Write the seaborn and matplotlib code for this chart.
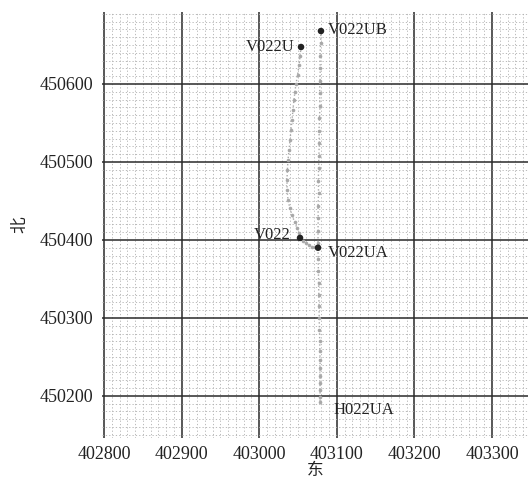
import matplotlib
matplotlib.use("Agg")
import matplotlib.pyplot as plt
import seaborn as sns
import pandas as pd
from matplotlib.ticker import MultipleLocator

sns.set_theme(style="white")
plt.rcParams['font.family'] = ['Liberation Serif', 'Noto Sans CJK SC', 'DejaVu Sans']

# Trajectory V022 -> V022U (curving path)
traj1_x = [403053.9, 403052.6, 403051.3, 403049.5, 403047.4, 403046.0, 403044.8,
           403043.5, 403042.3, 403041.0, 403039.7, 403038.4, 403037.1, 403036.3,
           403035.8, 403035.9, 403037.1, 403039.5, 403042.3, 403045.5, 403048.7,
           403050.8, 403052.6]
traj1_y = [450647.4, 450636.0, 450624.4, 450612.0, 450600.0, 450590.0, 450579.5,
           450567.0, 450553.8, 450541.0, 450528.2, 450515.0, 450502.6, 450490.0,
           450476.9, 450464.0, 450451.3, 450441.0, 450432.0, 450423.0, 450415.4,
           450409.0, 450402.6]
# Trajectory V022UB -> V022UA
traj2_x = [403079.6, 403079.0, 403078.4, 403078.6, 403078.4, 403077.8, 403078.4,
           403077.6, 403077.1, 403077.4, 403076.9, 403076.5, 403076.2, 403076.5,
           403075.8, 403076.0, 403075.8, 403075.8]
traj2_y = [450667.9, 450652.0, 450636.0, 450620.0, 450604.0, 450588.0, 450572.0,
           450556.0, 450540.0, 450524.0, 450508.0, 450492.0, 450476.0, 450460.0,
           450444.0, 450428.0, 450412.0, 450396.0]
# Trajectory V022 -> V022UA -> H022UA
traj3_x = [403052.6, 403056.0, 403060.0, 403064.0, 403068.0, 403072.0, 403075.8,
           403076.0, 403076.3, 403076.5, 403076.8, 403077.1, 403077.3, 403077.6,
           403078.0, 403078.2, 403078.4, 403078.4, 403078.4, 403078.4, 403078.4,
           403078.4, 403078.4]
traj3_y = [450402.6, 450399.0, 450396.0, 450393.0, 450391.0, 450390.5, 450390.0,
           450375.0, 450360.0, 450345.0, 450330.0, 450315.0, 450300.0, 450285.0,
           450270.0, 450258.0, 450246.0, 450236.0, 450226.0, 450216.0, 450207.0,
           450199.0, 450192.0]

wells = ["V022U", "V022UB", "V022", "V022UA"]
wells_x = [403053.9, 403079.6, 403052.6, 403075.8]
wells_y = [450647.4, 450667.9, 450402.6, 450390.0]
end_label = "H022UA"
end_x, end_y = 403078.4, 450192.0

xticks = [402800, 402900, 403000, 403100, 403200, 403300]
yticks = [450200, 450300, 450400, 450500, 450600]

fig = plt.figure(figsize=(5.28, 4.83), dpi=100)
ax = fig.add_axes([102/528, 45/483, 426/528, 426/483])

for tx, ty in [(traj1_x, traj1_y), (traj2_x, traj2_y), (traj3_x, traj3_y)]:
    df = pd.DataFrame({"x": tx, "y": ty})
    sns.lineplot(data=df, x="x", y="y", sort=False, ax=ax, color="#a8a8a8",
                 linestyle=":", linewidth=1.0, marker="o", markersize=2.6,
                 markeredgewidth=0, estimator=None)

wdf = pd.DataFrame({"x": wells_x, "y": wells_y, "name": wells})
sns.scatterplot(data=wdf, x="x", y="y", ax=ax, color="#222222", s=22,
                edgecolor="none", zorder=5)

offsets = {"V022U": (-5, 0, "right"), "V022UB": (5, 1, "left"),
           "V022": (-7, 2, "right"), "V022UA": (7, -4, "left")}
for n, x, y in zip(wells, wells_x, wells_y):
    dx, dy, ha = offsets[n]
    ax.annotate(n, (x, y), xytext=(dx, dy), textcoords="offset points",
                ha=ha, va="center", fontsize=12, color="#222222")
ax.annotate(end_label, (end_x, end_y), xytext=(10, -6), textcoords="offset points",
            ha="left", va="center", fontsize=12, color="#222222")

ax.set_xlim(402797.4, 403346.4)
ax.set_ylim(450146.0, 450692.3)
ax.set_xticks(xticks)
ax.set_yticks(yticks)
ax.set_xticklabels([str(v) for v in xticks])
ax.set_yticklabels([str(v) for v in yticks])
ax.xaxis.set_minor_locator(MultipleLocator(10))
ax.yaxis.set_minor_locator(MultipleLocator(10))
ax.grid(which="major", color="#2a2a2a", linewidth=1.1, linestyle="-")
ax.grid(which="minor", color="#b0b0b0", linewidth=0.6, linestyle=(0, (1.5, 2.5)))
ax.set_axisbelow(True)
for s in ax.spines.values():
    s.set_visible(False)
ax.tick_params(axis="both", which="both", length=0, labelsize=13, colors="#222222", pad=6)
ax.set_xlabel("东", fontsize=12, color="#222222", labelpad=0)
ax.set_ylabel("北", fontsize=12, color="#222222", labelpad=8)

fig.savefig("out.png", dpi=100)
